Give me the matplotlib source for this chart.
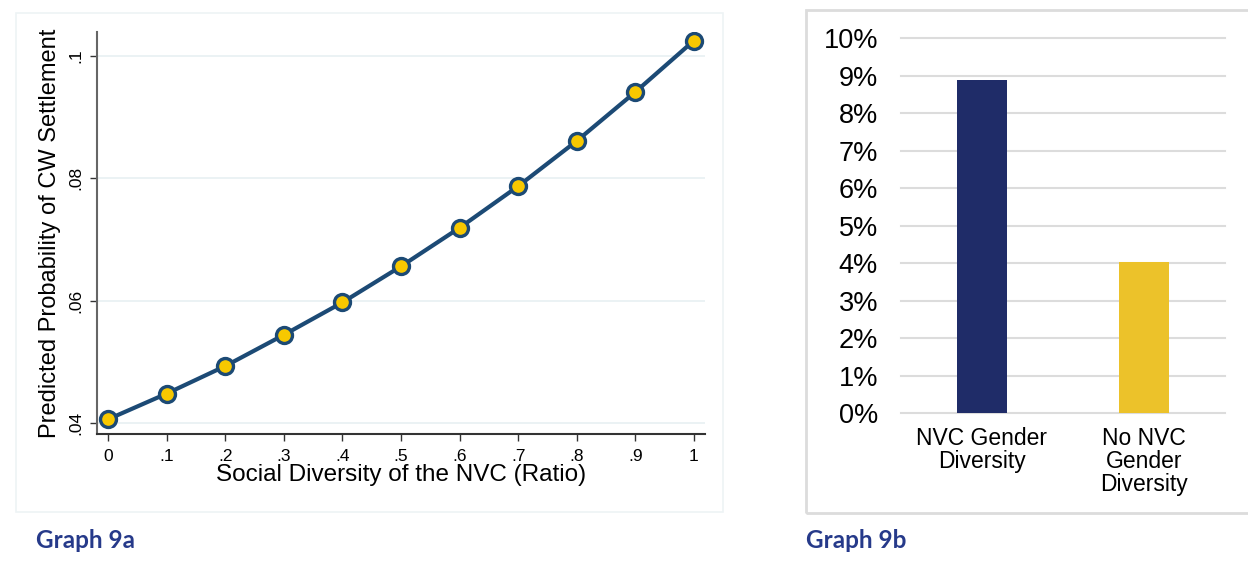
import matplotlib.pyplot as plt
from matplotlib.patches import Rectangle
from matplotlib.ticker import FuncFormatter

plt.rcParams['font.family'] = ['Liberation Sans', 'DejaVu Sans']

# Graph 9a data
diversity = [0, .1, .2, .3, .4, .5, .6, .7, .8, .9, 1]
prob = [0.0406, 0.0448, 0.0493, 0.0544, 0.0597, 0.0656, 0.0719, 0.0787, 0.0861, 0.0941, 0.1025]
x_ticks = [0, .1, .2, .3, .4, .5, .6, .7, .8, .9, 1]
x_ticklabels = ['0', '.1', '.2', '.3', '.4', '.5', '.6', '.7', '.8', '.9', '1']
y_ticks = [.04, .06, .08, .1]
y_ticklabels = ['.04', '.06', '.08', '.1']

# Graph 9b data
categories = ['NVC Gender\nDiversity', 'No NVC\nGender\nDiversity']
settle_pct = [8.87, 4.03]
bar_colors = ['#1f2c68', '#ecc22a']

NAVY = '#1c4a75'
TITLE = '#263a8a'

fig = plt.figure(figsize=(12.48, 5.78), dpi=100)

# --- left panel ---
# faint outer frame
fig.add_artist(Rectangle((16 / 1248, 1 - 512 / 578), (723 - 16) / 1248, (512 - 13) / 578,
                         transform=fig.transFigure, fill=False, edgecolor='#eef3f5', lw=1.2))

ax1 = fig.add_axes([97 / 1248, 1 - 434 / 578, 608 / 1248, 402 / 578])
ax1.plot(diversity, prob, color=NAVY, lw=3, marker='o', markersize=11.5,
         markerfacecolor='#f7c800', markeredgecolor=NAVY, markeredgewidth=2.4, zorder=3)
ax1.set_xlim(-0.0188, 1.0188)
ax1.set_ylim(0.0382, 0.1039)
ax1.set_xticks(x_ticks)
ax1.set_xticklabels(x_ticklabels)
ax1.set_yticks(y_ticks)
ax1.set_yticklabels(y_ticklabels, rotation=90, va='center')
ax1.tick_params(axis='both', labelsize=12.5, length=5, width=1, color='#333333')
ax1.tick_params(axis='x', pad=6)
ax1.tick_params(axis='y', pad=5)
ax1.grid(axis='y', color='#e8f0f2', lw=1.2)
ax1.set_axisbelow(True)
for s in ['top', 'right']:
    ax1.spines[s].set_visible(False)
ax1.spines['left'].set_color('#666666')
ax1.spines['bottom'].set_color('#333333')
ax1.spines['left'].set_linewidth(1.5)
ax1.spines['bottom'].set_linewidth(1.5)
ax1.set_xlabel('Social Diversity of the NVC (Ratio)', fontsize=17.5, labelpad=0)
ax1.set_ylabel('Predicted Probability of CW Settlement', fontsize=17, labelpad=5)

fig.text(36 / 1248, 1 - 541 / 578, 'Graph 9a', fontsize=17.5, fontweight='bold',
         color=TITLE, family=['Lato', 'DejaVu Sans'], va='center')

# --- right panel ---
fig.add_artist(Rectangle((806 / 1248, 1 - 513 / 578), 500 / 1248, (513 - 10) / 578,
                         transform=fig.transFigure, fill=False, edgecolor='#dcdcdc', lw=2))

ax2 = fig.add_axes([901 / 1248, 1 - 413.3 / 578, 324 / 1248, 375.3 / 578])
ax2.bar(range(len(categories)), settle_pct, width=0.312, color=bar_colors, zorder=3)
ax2.set_xlim(-0.5, 1.5)
ax2.set_ylim(0, 10)
ax2.set_yticks(range(0, 11))
ax2.yaxis.set_major_formatter(FuncFormatter(lambda v, p: f'{int(v)}%'))
ax2.set_xticks(range(len(categories)))
ax2.set_xticklabels(categories, linespacing=1.0)
ax2.tick_params(axis='y', labelsize=19.5, length=0, pad=16.5)
ax2.tick_params(axis='x', labelsize=16.5, length=0, pad=10)
ax2.grid(axis='y', color='#dcdcdc', lw=1.5)
for gl in ax2.get_ygridlines():
    gl.set_clip_on(False)
ax2.set_axisbelow(True)
for s in ax2.spines.values():
    s.set_visible(False)

fig.text(806 / 1248, 1 - 541 / 578, 'Graph 9b', fontsize=17.5, fontweight='bold',
         color=TITLE, family=['Lato', 'DejaVu Sans'], va='center')

fig.savefig('out.png', dpi=100)
